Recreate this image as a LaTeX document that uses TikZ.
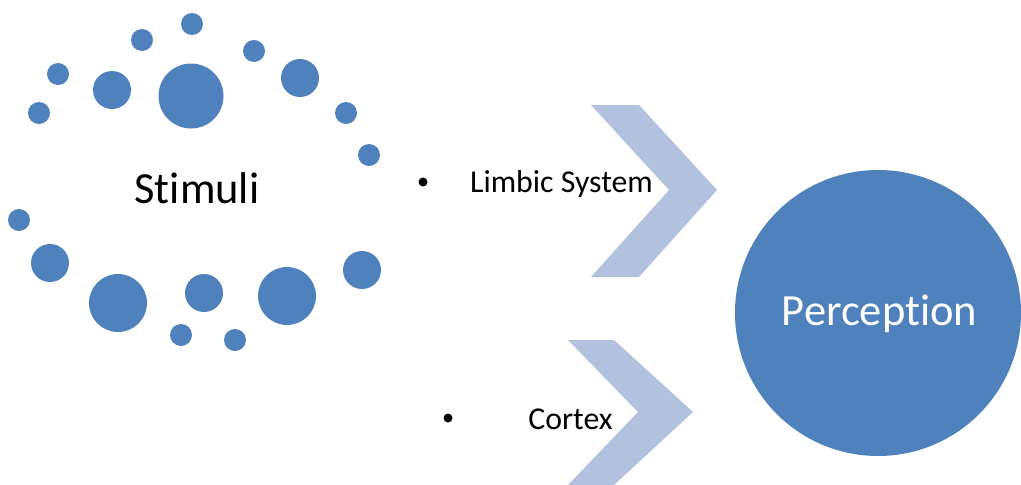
\documentclass[tikz,border=0pt]{standalone}
\usepackage{fontspec}
\setmainfont[Ligatures=NoCommon]{Carlito}
\definecolor{dotblue}{HTML}{4F81BD}
\definecolor{chevblue}{HTML}{B2C2DE}
\begin{document}
\begin{tikzpicture}[x=1pt,y=-1pt,
  dot/.style={circle,fill=dotblue,draw=none,inner sep=0pt,minimum size=#1},
  chev/.style={fill=chevblue,draw=none},
  bullet/.style={circle,fill=black,inner sep=0pt,minimum size=9pt},
  label/.style={font=\fontsize{31.8}{36}\selectfont,anchor=base,inner sep=0pt},
  big/.style={font=\fontsize{44.5}{50}\selectfont,anchor=base,inner sep=0pt}]
\useasboundingbox (0,0) rectangle (1021,485);
% stimuli dots
\node[dot=22pt] (d1) at (192,24) {};
\node[dot=22pt] (d2) at (142,40) {};
\node[dot=22pt] (d3) at (254,51) {};
\node[dot=22pt] (d4) at (58,74) {};
\node[dot=38pt] (d5) at (112,90) {};
\node[dot=65pt] (d6) at (191,96) {};
\node[dot=38pt] (d7) at (300,78) {};
\node[dot=22pt] (d8) at (39,113) {};
\node[dot=22pt] (d9) at (346,113) {};
\node[dot=22pt] (d10) at (369,155) {};
\node[dot=22pt] (d11) at (19,220) {};
\node[dot=38pt] (d12) at (50,263) {};
\node[dot=58pt] (d13) at (118,303) {};
\node[dot=38pt] (d14) at (204,293) {};
\node[dot=58pt] (d15) at (287,296) {};
\node[dot=38pt] (d16) at (362,270) {};
\node[dot=22pt] (d17) at (181,335) {};
\node[dot=22pt] (d18) at (235,340) {};
\node[big] (stimuli) at (197,203) {Stimuli};
% chevrons
\fill[chev] (591,105) -- (639,105) -- (717,190) -- (639,277) -- (591,277) -- (669,190) -- cycle;
\fill[chev] (568,340) -- (614,340) -- (693,412) -- (614,485) -- (568,485) -- (638,412) -- cycle;
% labels
\node[bullet] (b1) at (423,182) {};
\node[label] (limbic) at (561.5,192) {Limbic System};
\node[bullet] (b2) at (448,418) {};
\node[label] (cortex) at (570.5,429) {Cortex};
% perception
\node[circle,fill=dotblue,draw=none,minimum size=286pt,inner sep=0pt] (perc) at (878,313) {};
\node[big,text=white] (perctext) at (879.5,325.5) {Perception};
\end{tikzpicture}
\end{document}
